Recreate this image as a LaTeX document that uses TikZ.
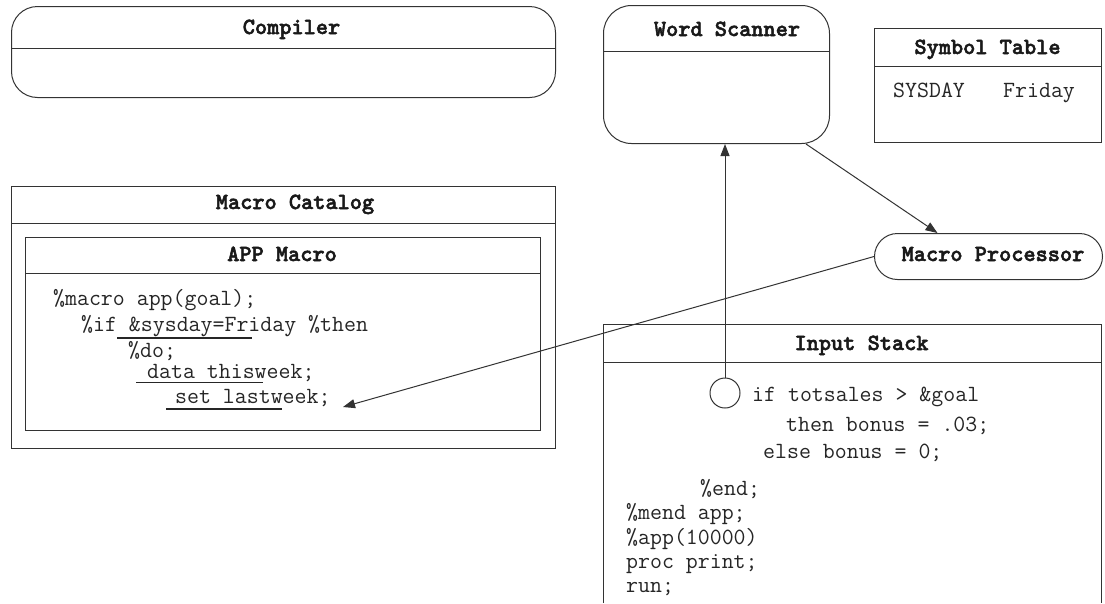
\documentclass[tikz,border=0pt]{standalone}
\usepackage{fontspec}
\usetikzlibrary{arrows.meta}
\newfontfamily\ttlfam{lmmonolt10-bold.otf}[FakeBold=2.2]
\newcommand\codefont{\ttfamily\fontsize{23.2pt}{27pt}\selectfont}
\newcommand\titlefont{\ttlfam\fontsize{23.2pt}{27pt}\selectfont}
\tikzset{
  ln/.style={draw=black!80, line width=1pt},
  boxnw/.style={ln, inner sep=0pt, anchor=north west},
  ttl/.style={anchor=base, inner sep=0pt, font=\titlefont, text=black!90},
  code/.style={anchor=base west, inner sep=0pt, font=\codefont, text=black!85},
  arr/.style={ln, -{Triangle[length=12pt,width=9pt]}},
  uln/.style={draw=black!85, line width=1.4pt},
}
\begin{document}
\begin{tikzpicture}[x=1pt,y=-1pt]
\useasboundingbox (0,0) rectangle (1105,603);
\fill[white] (0,0) rectangle (1105,603);

% Compiler
\node[boxnw, rounded corners=26pt, minimum width=544pt, minimum height=91pt] (comp) at (11,6) {};
\draw[ln] (comp.west |- 0,48) -- (comp.east |- 0,48);
\node[ttl] (compT) at (291.5,34) {Compiler};

% Word Scanner
\node[boxnw, rounded corners=28pt, minimum width=226pt, minimum height=138pt] (ws) at (603,5) {};
\draw[ln] (ws.west |- 0,51) -- (ws.east |- 0,51);
\node[ttl] (wsT) at (727,36) {Word Scanner};

% Symbol Table
\node[boxnw, minimum width=227pt, minimum height=114pt] (st) at (874,28) {};
\draw[ln] (st.west |- 0,66) -- (st.east |- 0,66);
\node[ttl] (stT) at (987.5,54) {Symbol Table};
\node[code] (sys) at (893,97) {SYSDAY};
\node[code] (fri) at (1003,97) {Friday};

% Macro Catalog
\node[boxnw, minimum width=544pt, minimum height=262pt] (mc) at (11,186) {};
\draw[ln] (mc.west |- 0,223) -- (mc.east |- 0,223);
\node[ttl] (mcT) at (295,209) {Macro Catalog};

% APP Macro
\node[boxnw, minimum width=515pt, minimum height=193pt] (app) at (25,237) {};
\draw[ln] (app.west |- 0,273) -- (app.east |- 0,273);
\node[ttl] (appT) at (282,261) {APP Macro};
\node[code] (a1) at (53,305) {\%macro app(goal);};
\node[code] (a2) at (81,331) {\%if \&sysday=Friday \%then};
\node[code] (a3) at (128,357) {\%do;};
\node[code] (a4) at (147,378) {data thisweek;};
\node[code] (a5) at (175,403) {set lastweek;};
\draw[uln] (117,338) -- (252,338);
\draw[uln] (136,382.5) -- (263,382.5);
\draw[uln] (166,409) -- (282,409);

% Macro Processor
\node[boxnw, rounded corners=23pt, minimum width=228pt, minimum height=46pt] (mp) at (874,233) {};
\node[ttl] (mpT) at (993,261) {Macro Processor};

% Input Stack
\coordinate (isSW) at (603,603);
\coordinate (isNW) at (603,324);
\coordinate (isNE) at (1101,324);
\coordinate (isSE) at (1101,603);
\draw[ln] (isSW) -- (isNW) -- (isNE) -- (isSE);
\draw[ln] (603,362) -- (1101,362);
\node[ttl] (isT) at (861.5,350) {Input Stack};
\node[ln, circle, minimum size=30pt, inner sep=0pt] (circ) at (725,393) {};
\node[code] (i1) at (752,401) {if totsales > \&goal};
\node[code] (i2) at (786,431) {then bonus = .03;};
\node[code] (i3) at (763,458) {else bonus = 0;};
\node[code] (i4) at (700,495) {\%end;};
\node[code] (i5) at (626,519) {\%mend app;};
\node[code] (i6) at (626,544) {\%app(10000)};
\node[code] (i7) at (626,568) {proc print;};
\node[code] (i8) at (626,592) {run;};

% Connectors
\coordinate (tip) at (343,407);
\draw[arr] (circ.north) -- (circ.north |- ws.south);
\draw[arr] ([xshift=-24pt]ws.south east) -- ([xshift=-51pt]mp.north);
\draw[arr] (mp.west) -- (tip);
\end{tikzpicture}
\end{document}
